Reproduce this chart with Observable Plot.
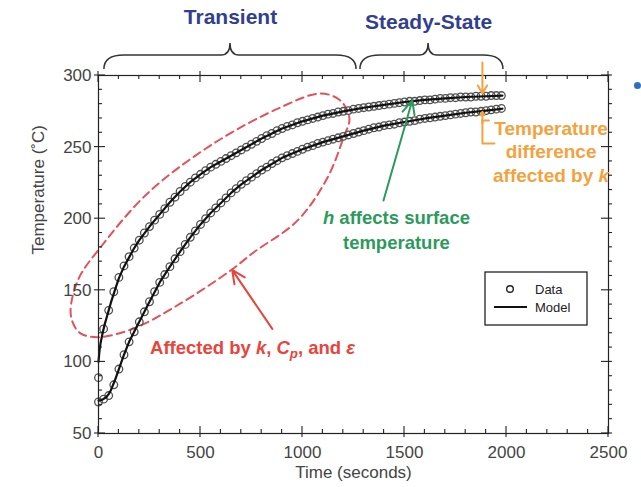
<!DOCTYPE html>
<html>
<head>
<meta charset="utf-8">
<script src="https://cdn.jsdelivr.net/npm/d3@7"></script>
<script src="https://cdn.jsdelivr.net/npm/@observablehq/plot@0.6"></script>
<style>
  html, body { margin: 0; padding: 0; background: #fff; }
</style>
</head>
<body>
<div id="chart"></div>
<script>
// ---------- data ----------
const dataTime = [0,25,50,75,100,125,150,175,200,225,250,275,300,325,350,375,400,425,450,475,
  500,525,550,575,600,625,650,675,700,725,750,775,800,825,850,875,900,925,950,975,
  1000,1025,1050,1075,1100,1125,1150,1175,1200,1225,1250,1275,1300,1325,1350,1375,1400,1425,1450,1475,
  1500,1525,1550,1575,1600,1625,1650,1675,1700,1725,1750,1775,1800,1825,1850,1875,1900,1925,1950,1975];
const upperData = [89,123,136,149,159,167,173.5,179.5,185,190,
  194.5,199,203,207,211.5,215,219,222.5,225.5,228.5,
  231,233.5,236,238,240,242,244,246,248,250,
  252,254,256,258,259.5,261.5,263,264.5,265.5,267,
  268,269,270,271,272,273,273.5,274.5,275,275.5,
  276.5,277,277.5,278,278.5,279,279.5,280,280.5,281,
  281.5,282,282,282.5,283,283,283.5,284,284,284.5,
  284.5,285,285,285,285.5,285.5,285.5,286,286,286];
const lowerData = [72,74,76.5,84,95,105,114,121,128,135,
  142,149,155.5,161,166.5,172,177,182,187,191.5,
  196,200,204,207.5,211,214.5,218,221,224,226.5,
  229,231.5,234,236,238.5,240.5,242.5,244,245.5,247,
  248.5,250,251,252.5,253.5,254.5,255.5,256.5,257.5,258.5,
  259.5,260.5,261.5,262.5,263.5,264,265,265.5,266,267,
  267.5,268,268.5,269.5,270,270.5,271,271.5,272,272.5,
  273,273.5,274,274.5,274.5,275,275.5,276,276.5,277];

const modelTime = [0,5,10,20,30,40,50,60,80,100,125,150,175,200,250,300,350,400,450,500,
  550,600,650,700,800,900,1000,1100,1200,1300,1400,1500,1600,1700,1800,1900,1980];
const upperModel = [100,108,113,120,126,131,136,141,150,158.5,166.5,173,179.5,185,194.5,203,211.5,219,225.5,231,
  236,240,244,248,256,263,268,272,275,277.5,279.5,281.5,283,284,285,285.5,286];
const lowerModel = [73,73,73.2,73.8,74.6,75.8,77.5,80,87,95,105,114,121,128,142,155.5,166.5,177,187,196,
  204,211,218,224,234,242.5,248.5,253.5,257.5,261.5,265,267.5,270,272,274,275.5,276.8];

const xMajor = [0,500,1000,1500,2000,2500];
const xMinor = [100,200,300,400,600,700,800,900,1100,1200,1300,1400,1600,1700,1800,1900,2100,2200,2300,2400];
const yMajor = [50,100,150,200,250,300];
const yMinor = [60,70,80,90,110,120,130,140,160,170,180,190,210,220,230,240,260,270,280,290];

const xTitle = "Time (seconds)";
const yTitle = "Temperature (\u02DAC)";
const legendLabels = ["Data", "Model"];

// annotation shapes (data units)
const ellipseX = [-137,-98,10,240,564,892,1088,1186,1230,1201,1123,976,760,647,402,172,-5,-88,-122];
const ellipseY = [136,158,180,217.6,252.5,277.7,287.4,282.5,270,256.7,228.8,198.8,176.4,163.8,140.8,123.3,117.2,119.9,126.1];

const braceSpans = [
  {label: "Transient", x1: 29, x2: 1265, tip: 647, ty: 340.5},
  {label: "Steady-State", x1: 1284, x2: 1985, tip: 1618, ty: 337}
];

const GREEN = "#2c9a5d", RED = "#e8443c", ORANGE = "#f2a23f", NAVY = "#323f8f";
const annoArrows = [
  {x1: 1397, y1: 212.7, x2: 1538, y2: 282.5, color: GREEN, big: true},
  {x1: 852, y1: 123.1, x2: 655, y2: 164.3, color: RED, big: true},
  {x1: 1882, y1: 309, x2: 1882, y2: 287.4, color: ORANGE, big: false},
  {x1: 1882, y1: 266.5, x2: 1882, y2: 274.6, color: ORANGE, big: false}
];
const orangeBracket = [
  {x: 1882, y: 268.5, k: "a"}, {x: 1882, y: 252.5, k: "a"}, {x: 1941, y: 252.5, k: "a"},
  {x: 1882, y: 268.5, k: "b"}, {x: 1914, y: 268.5, k: "b"}
];
const annoTexts = [
  {x: 1463, y: 200.8, color: GREEN, size: 18.5, anchor: "middle", parts: [["h","i"],[" affects surface"]]},
  {x: 1463, y: 182.7, color: GREEN, size: 18.5, anchor: "middle", parts: [["temperature"]]},
  {x: 255, y: 109.4, color: RED, size: 18.5, anchor: "start", parts: [["Affected by "],["k","i"],[", "],["C","i"],["p","sub"],[", and "],["\u03B5","i"]]},
  {x: 2221, y: 262.8, color: ORANGE, size: 19, anchor: "middle", parts: [["Temperature"]]},
  {x: 2221, y: 246.4, color: ORANGE, size: 19, anchor: "middle", parts: [["difference"]]},
  {x: 2221, y: 230.2, color: ORANGE, size: 19, anchor: "middle", parts: [["affected by "],["k","i"]]}
];
const bullet = [{x: 2642, y: 293}];

// ---------- tables ----------
const dataRows = [
  ...dataTime.map((t, i) => ({t, v: upperData[i], s: "upper"})),
  ...dataTime.map((t, i) => ({t, v: lowerData[i], s: "lower"}))
];
const modelRows = [
  ...modelTime.map((t, i) => ({t, v: upperModel[i], s: "upper"})),
  ...modelTime.map((t, i) => ({t, v: lowerModel[i], s: "lower"}))
];
const ellipseRows = ellipseX.map((x, i) => ({x, y: ellipseY[i]}));

const FONT = "'Liberation Sans', Arial, Helvetica, sans-serif";

// ---------- custom render marks ----------
function ticksMark(index, scales, values, dims) {
  const {x, y} = scales;
  const L = dims.marginLeft, R = dims.width - dims.marginRight;
  const T = dims.marginTop, B = dims.height - dims.marginBottom;
  const g = d3.create("svg:g").attr("stroke", "#222").attr("stroke-width", 1.1);
  const seg = (a, b, c, d) => g.append("line").attr("x1", a).attr("y1", b).attr("x2", c).attr("y2", d);
  for (const v of xMajor) { const p = x(v); seg(p, B + 4, p, B - 7); seg(p, T - 4, p, T + 7); }
  for (const v of xMinor) { const p = x(v); seg(p, B, p, B - 4); seg(p, T, p, T + 4); }
  for (const v of yMajor) { const p = y(v); seg(L - 4, p, L + 7, p); seg(R - 7, p, R + 4, p); }
  for (const v of yMinor) { const p = y(v); seg(L, p, L + 4, p); seg(R, p, R + 4, p); }
  return g.node();
}

function bracesMark(index, scales, values, dims) {
  const {x} = scales;
  const T = dims.marginTop;
  const yEnd = T - 6, yFlat = T - 20, yTip = T - 32;
  const g = d3.create("svg:g").attr("fill", "none").attr("stroke", "#333").attr("stroke-width", 1.5);
  for (const b of braceSpans) {
    const a = x(b.x1), c = x(b.x2), m = x(b.tip);
    const r = 20, r2 = 9;
    const d = `M${a},${yEnd} C${a},${yFlat + 5} ${a + r * 0.35},${yFlat} ${a + r},${yFlat} ` +
      `L${m - r2},${yFlat} C${m - 3},${yFlat} ${m},${yFlat - 4} ${m},${yTip} ` +
      `C${m},${yFlat - 4} ${m + 3},${yFlat} ${m + r2},${yFlat} ` +
      `L${c - r},${yFlat} C${c - r * 0.35},${yFlat} ${c},${yFlat + 5} ${c},${yEnd}`;
    g.append("path").attr("d", d);
  }
  return g.node();
}

function richTextMark(index, scales, values, dims) {
  const {x, y} = scales;
  const g = d3.create("svg:g").attr("font-family", FONT).attr("font-weight", "bold");
  for (const t of annoTexts) {
    const txt = g.append("text")
      .attr("x", x(t.x)).attr("y", y(t.y)).attr("dy", "0.35em")
      .attr("fill", t.color).attr("font-size", t.size).attr("text-anchor", t.anchor);
    let shifted = false;
    for (const [s, kind] of t.parts) {
      const ts = txt.append("tspan").text(s);
      if (shifted) { ts.attr("dy", -4); shifted = false; }
      if (kind === "i") ts.attr("font-style", "italic");
      if (kind === "sub") { ts.attr("font-style", "italic").attr("font-size", t.size * 0.72).attr("dy", 4); shifted = true; }
    }
  }
  return g.node();
}

function legendMark(index, scales, values, dims) {
  const R = dims.width - dims.marginRight, T = dims.marginTop;
  const bx = R - 123, by = T + 197, bw = 102, bh = 53;
  const g = d3.create("svg:g").attr("font-family", FONT).attr("text-anchor", "start");
  g.append("rect").attr("x", bx).attr("y", by).attr("width", bw).attr("height", bh)
    .attr("fill", "#fff").attr("stroke", "#222").attr("stroke-width", 1.3);
  g.append("circle").attr("cx", bx + 25).attr("cy", by + 17).attr("r", 3.3)
    .attr("fill", "none").attr("stroke", "#222").attr("stroke-width", 1.4);
  g.append("line").attr("x1", bx + 9).attr("x2", bx + 42).attr("y1", by + 35).attr("y2", by + 35)
    .attr("stroke", "#111").attr("stroke-width", 2.2);
  legendLabels.forEach((lab, i) => {
    g.append("text").attr("x", bx + 50).attr("y", by + 17 + i * 18).attr("dy", "0.35em")
      .attr("text-anchor", "start").attr("font-size", 13).attr("fill", "#222").text(lab);
  });
  return g.node();
}

// ---------- plot ----------
const chart = Plot.plot({
  width: 641,
  height: 487,
  marginLeft: 98,
  marginRight: 33,
  marginTop: 75,
  marginBottom: 54,
  style: {fontFamily: FONT, fontSize: "17px", background: "#fff", color: "#444", overflow: "visible"},
  x: {domain: [0, 2500]},
  y: {domain: [50, 300]},
  marks: [
    Plot.line(ellipseRows, {x: "x", y: "y", curve: "catmull-rom-closed", stroke: "#e2525c", strokeWidth: 2, strokeDasharray: "8,5"}),
    Plot.dot(dataRows, {x: "t", y: "v", r: 3.8, stroke: "#505050", fill: "none", strokeWidth: 1.3}),
    Plot.line(modelRows, {x: "t", y: "v", z: "s", stroke: "#111", strokeWidth: 2.2}),
    Plot.frame({stroke: "#222", strokeWidth: 1.2}),
    ticksMark,
    Plot.axisX(xMajor, {tickSize: 0, tickPadding: 12, label: null, tickFormat: d => String(d), fontSize: 17, fill: "#444"}),
    Plot.axisY(yMajor, {tickSize: 0, tickPadding: 7, label: null, tickFormat: d => String(d), fontSize: 17, fill: "#444"}),
    Plot.text([xTitle], {frameAnchor: "bottom", dy: 44, fontSize: 17, fill: "#444"}),
    Plot.text([yTitle], {frameAnchor: "left", dx: -60, rotate: -90, fontSize: 17, fill: "#444"}),
    bracesMark,
    Plot.text(braceSpans, {x: "tip", y: "ty", text: "label", fontSize: 21, fontWeight: "bold", fill: NAVY}),
    Plot.line(orangeBracket, {x: "x", y: "y", z: "k", stroke: ORANGE, strokeWidth: 2}),
    Plot.arrow(annoArrows, {filter: d => d.big, x1: "x1", y1: "y1", x2: "x2", y2: "y2", stroke: "color", strokeWidth: 2, headLength: 11, headAngle: 50}),
    Plot.arrow(annoArrows, {filter: d => !d.big, x1: "x1", y1: "y1", x2: "x2", y2: "y2", stroke: "color", strokeWidth: 2, headLength: 7, headAngle: 60}),
    richTextMark,
    legendMark,
    Plot.dot(bullet, {x: "x", y: "y", r: 3.5, fill: "#2e6fc0"})
  ]
});
document.getElementById("chart").appendChild(chart);
</script>
</body>
</html>
